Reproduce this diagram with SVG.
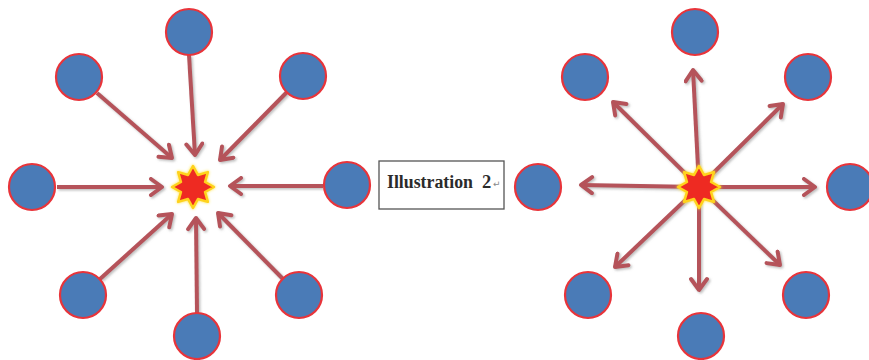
<svg xmlns="http://www.w3.org/2000/svg" xmlns:xlink="http://www.w3.org/1999/xlink" width="869" height="360" viewBox="0 0 869 360">
  <style>
    .node { fill: #4a7bb7; stroke: #e8343a; stroke-width: 2.2; }
    .arrow { fill: none; stroke: #b5535a; stroke-width: 4; marker-end: url(#head); filter: url(#shadow); }
    .star { fill: #ee2a24; stroke: #ffd21a; stroke-width: 2.5; stroke-linejoin: round; filter: url(#glow); }
    .label { font-family: "Liberation Serif", "Times New Roman", serif; font-size: 18.5px; font-weight: bold; fill: #2b2b2b; }
    .mark { font-family: "DejaVu Sans", sans-serif; font-size: 9px; fill: #888; }
  </style>
  <defs>
    <marker id="head" markerUnits="userSpaceOnUse" markerWidth="20" markerHeight="20" viewBox="-14 -10 16 20" refX="0" refY="0" orient="auto">
      <path d="M -11,-8 L 0,0 L -11,8" fill="none" stroke="#b5535a" stroke-width="4" stroke-linecap="round" stroke-linejoin="round"/>
    </marker>
    <!-- region in user space so straight horizontal/vertical lines are not clipped -->
    <filter id="shadow" filterUnits="userSpaceOnUse" x="0" y="0" width="869" height="360">
      <feDropShadow dx="1.5" dy="1.5" stdDeviation="1.2" flood-color="#888" flood-opacity="0.55"/>
    </filter>
    <filter id="glow" x="-30%" y="-30%" width="160%" height="160%">
      <feGaussianBlur in="SourceAlpha" stdDeviation="1.5" result="b"/>
      <feFlood flood-color="#ffe23a"/>
      <feComposite in2="b" operator="in" result="g"/>
      <feMerge><feMergeNode in="g"/><feMergeNode in="SourceGraphic"/></feMerge>
    </filter>
    <polygon id="burst" class="star" points="0,-21 4.97,-12.01 14.85,-14.85 12.01,-4.97 21,0 12.01,4.97 14.85,14.85 4.97,12.01 0,21 -4.97,12.01 -14.85,14.85 -12.01,4.97 -21,0 -12.01,-4.97 -14.85,-14.85 -4.97,-12.01"/>
  </defs>

  <!-- connectors: inward arrows on the left, outward arrows on the right -->
  <g id="connectors">
    <line class="arrow" x1="189" y1="55" x2="195" y2="155"/>
    <line class="arrow" x1="97" y1="93" x2="172" y2="158"/>
    <line class="arrow" x1="287" y1="92" x2="220" y2="160"/>
    <line class="arrow" x1="57" y1="187" x2="162" y2="187"/>
    <line class="arrow" x1="323" y1="186" x2="230" y2="186"/>
    <line class="arrow" x1="100" y1="279" x2="172" y2="214"/>
    <line class="arrow" x1="197" y1="313" x2="196" y2="218"/>
    <line class="arrow" x1="283" y1="279" x2="218" y2="213"/>

    <line class="arrow" x1="699" y1="187" x2="693" y2="70"/>
    <line class="arrow" x1="699" y1="187" x2="613" y2="102"/>
    <line class="arrow" x1="699" y1="187" x2="783" y2="104"/>
    <line class="arrow" x1="699" y1="187" x2="581" y2="185"/>
    <line class="arrow" x1="699" y1="187" x2="815" y2="187"/>
    <line class="arrow" x1="699" y1="187" x2="615" y2="267"/>
    <line class="arrow" x1="699" y1="187" x2="699" y2="290"/>
    <line class="arrow" x1="699" y1="187" x2="780" y2="265"/>
  </g>

  <!-- left cluster -->
  <g id="left-top"><circle class="node" cx="189" cy="32" r="23"/></g>
  <g id="left-top-left"><circle class="node" cx="79" cy="77" r="23"/></g>
  <g id="left-top-right"><circle class="node" cx="303" cy="76" r="23"/></g>
  <g id="left-left"><circle class="node" cx="32" cy="187" r="23"/></g>
  <g id="left-right"><circle class="node" cx="347" cy="185" r="23"/></g>
  <g id="left-bottom-left"><circle class="node" cx="83" cy="295" r="23"/></g>
  <g id="left-bottom"><circle class="node" cx="197" cy="336" r="23"/></g>
  <g id="left-bottom-right"><circle class="node" cx="299" cy="295" r="23"/></g>
  <g id="left-center"><use xlink:href="#burst" x="193" y="187"/></g>

  <!-- caption -->
  <g id="caption">
    <rect x="379" y="161" width="125" height="48" fill="#fff" stroke="#555" stroke-width="1.3"/>
    <text class="label" x="387" y="188" textLength="86" lengthAdjust="spacingAndGlyphs">Illustration</text>
    <text class="label" x="482" y="188">2</text>
    <text class="mark" x="493" y="187">↵</text>
  </g>

  <!-- right cluster -->
  <g id="right-top"><circle class="node" cx="695" cy="32" r="23"/></g>
  <g id="right-top-left"><circle class="node" cx="585" cy="77" r="23"/></g>
  <g id="right-top-right"><circle class="node" cx="808" cy="77" r="23"/></g>
  <g id="right-left"><circle class="node" cx="538" cy="187" r="23"/></g>
  <g id="right-right"><circle class="node" cx="850" cy="187" r="23"/></g>
  <g id="right-bottom-left"><circle class="node" cx="588" cy="295" r="23"/></g>
  <g id="right-bottom"><circle class="node" cx="701" cy="336" r="23"/></g>
  <g id="right-bottom-right"><circle class="node" cx="806" cy="295" r="23"/></g>
  <g id="right-center"><use xlink:href="#burst" x="699" y="187"/></g>
</svg>
